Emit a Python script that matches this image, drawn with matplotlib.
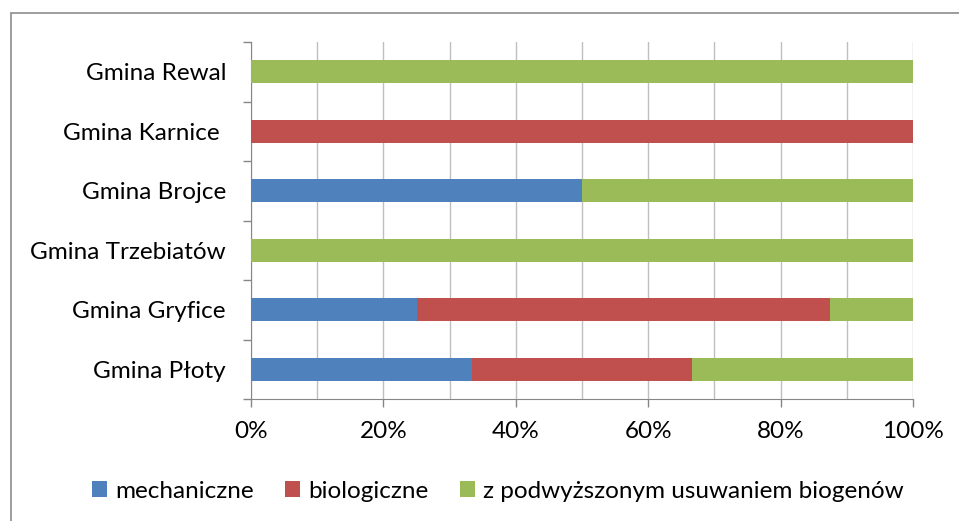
import matplotlib
matplotlib.use("agg")
import matplotlib.pyplot as plt
import numpy as np
from matplotlib.ticker import MultipleLocator, PercentFormatter
from matplotlib.patches import Rectangle

plt.rcParams['font.family'] = ['Lato', 'DejaVu Sans']

# data, bottom to top
gminy = ['Gmina Płoty', 'Gmina Gryfice', 'Gmina Trzebiatów',
         'Gmina Brojce', 'Gmina Karnice ', 'Gmina Rewal']
mechaniczne = [33.33, 25.0, 0.0, 50.0, 0.0, 0.0]
biologiczne = [33.33, 62.5, 0.0, 0.0, 100.0, 0.0]
biogeny = [33.34, 12.5, 100.0, 50.0, 0.0, 100.0]
series_names = ['mechaniczne', 'biologiczne',
                'z podwyższonym usuwaniem biogenów']
colors = ['#4F81BD', '#C0504D', '#9BBB59']

fig = plt.figure(figsize=(9.59, 5.21), dpi=100)
ax = fig.add_axes([251/959, 1 - 399/521, (913 - 251)/959, (399 - 42)/521])

# outer chart frame
fig.patches.append(Rectangle((11/959, -0.1), 1.2, 1 - 13/521 + 0.1,
                             transform=fig.transFigure, fill=False,
                             edgecolor='#8C8C8C', linewidth=1.2))

y = np.arange(len(gminy))
left = np.zeros(len(gminy))
for vals, name, c in zip([mechaniczne, biologiczne, biogeny], series_names, colors):
    ax.barh(y, vals, left=left, height=0.39, color=c, label=name,
            edgecolor='none', zorder=3)
    left += np.array(vals)

ax.set_xlim(0, 100)
ax.set_ylim(-0.5, len(gminy) - 0.5)
ax.xaxis.set_major_locator(MultipleLocator(20))
ax.xaxis.set_minor_locator(MultipleLocator(10))
ax.xaxis.set_major_formatter(PercentFormatter(decimals=0))
ax.grid(axis='x', which='both', color='#BFBFBF', linewidth=1, zorder=0)

ax.set_yticks(y)
ax.set_yticklabels(gminy)
ax.set_yticks(np.arange(-0.5, len(gminy)), minor=True)
ax.tick_params(axis='y', which='major', length=0, pad=18, labelsize=17.5)
ax.tick_params(axis='y', which='minor', length=6, color='#868686', width=1)
ax.tick_params(axis='x', which='major', length=6, color='#868686', width=1,
               direction='out', pad=10, labelsize=17.5)
ax.tick_params(axis='x', which='minor', length=0)

for s in ['top', 'right']:
    ax.spines[s].set_visible(False)
for s in ['left', 'bottom']:
    ax.spines[s].set_color('#868686')

fig.legend(loc='center', bbox_to_anchor=(498/959, 1 - 491/521), ncol=3,
           frameon=False, fontsize=17.5, handlelength=0.6, handleheight=0.6,
           handletextpad=0.35, columnspacing=1.3)

fig.savefig('out.png', dpi=100)
